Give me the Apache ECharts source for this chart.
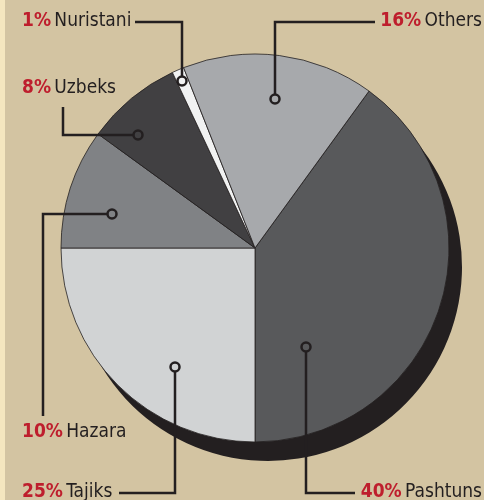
<!DOCTYPE html>
<html>
<head>
<meta charset="utf-8">
<script src="https://cdn.jsdelivr.net/npm/echarts@6/dist/echarts.min.js"></script>
<style>
  html, body { margin: 0; padding: 0; background: #d3c4a2; }
  #chart { width: 484px; height: 500px; }
</style>
</head>
<body>
<div id="chart"></div>
<script>
    // shares in clockwise order, starting at the Others/Pashtuns edge
    var groups = ['Pashtuns', 'Tajiks', 'Hazara', 'Uzbeks', 'Nuristani', 'Others'];
    var shares = [40, 25, 10, 8, 1, 16];

    var sliceColors = ['#58595b', '#d1d3d4', '#808285', '#414042', '#f1f2f2', '#a7a9ac'];

    // label placement: text anchor, leader line points (anchor dot first)
    var labelPos = [
        { x: 482, y: 492, align: 'right', line: [[306, 347], [306, 493], [355, 493]] },
        { x: 22, y: 492, align: 'left', line: [[175, 367], [175, 493], [119, 493]] },
        { x: 22, y: 432, align: 'left', line: [[112, 214], [43, 214], [43, 416]] },
        { x: 22, y: 88, align: 'left', line: [[138, 135], [63, 135], [63, 107]] },
        { x: 22, y: 21, align: 'left', line: [[182, 81], [182, 22], [135, 22]] },
        { x: 482, y: 21, align: 'right', line: [[275, 99], [275, 22], [375, 22]] }
    ];

    var FONT = '"Liberation Sans Narrow", "DejaVu Sans Condensed", "Roboto", sans-serif';
    var center = [255, 248];
    var radius = 194;

    var myChart = echarts.init(document.getElementById('chart'));

    var pieData = groups.map(function (g, i) {
        return { name: g, value: shares[i], itemStyle: { color: sliceColors[i] } };
    });

    // leader lines + hollow anchor dots, drawn above the slices
    var leaders = [];
    labelPos.forEach(function (p, i) {
        leaders.push({
            type: 'polyline',
            z: 99,
            shape: { points: p.line },
            style: { fill: null, stroke: '#231f20', lineWidth: 2.5 }
        });
        leaders.push({
            type: 'circle',
            z: 100,
            shape: { cx: p.line[0][0], cy: p.line[0][1], r: 4.5 },
            style: { fill: sliceColors[i], stroke: '#231f20', lineWidth: 2.5 }
        });
    });

    var option = {
        backgroundColor: '#d3c4a2',
        animation: false,
        graphic: [{
            type: 'rect',
            z: 0,
            shape: { x: 0, y: 0, width: 5, height: 500 },
            style: { fill: '#f4e6bf' }
        }].concat(leaders),
        series: [
            {
                // drop shadow under the pie
                type: 'pie',
                silent: true,
                z: 1,
                center: [center[0] + 13, center[1] + 19],
                radius: radius,
                startAngle: 54,
                label: { show: false },
                labelLine: { show: false },
                itemStyle: { color: '#231f20' },
                data: [1]
            },
            {
                type: 'pie',
                z: 2,
                center: center,
                radius: radius,
                startAngle: 54,
                clockwise: true,
                avoidLabelOverlap: false,
                itemStyle: {
                    borderColor: '#231f20',
                    borderWidth: 0.8
                },
                label: {
                    show: true,
                    position: 'outer',
                    formatter: function (p) {
                        return '{p|' + p.value + '%} {n|' + p.name + '}';
                    },
                    rich: {
                        p: { color: '#be1e2d', fontWeight: 'bold', fontSize: 19, fontFamily: FONT },
                        n: { color: '#231f20', fontSize: 19, fontFamily: FONT }
                    }
                },
                labelLine: { show: false },
                labelLayout: function (params) {
                    var p = labelPos[params.dataIndex];
                    return {
                        x: p.x,
                        y: p.y,
                        align: p.align,
                        verticalAlign: 'middle'
                    };
                },
                emphasis: { disabled: true },
                data: pieData
            }
        ]
    };

    myChart.setOption(option);
</script>
</body>
</html>
